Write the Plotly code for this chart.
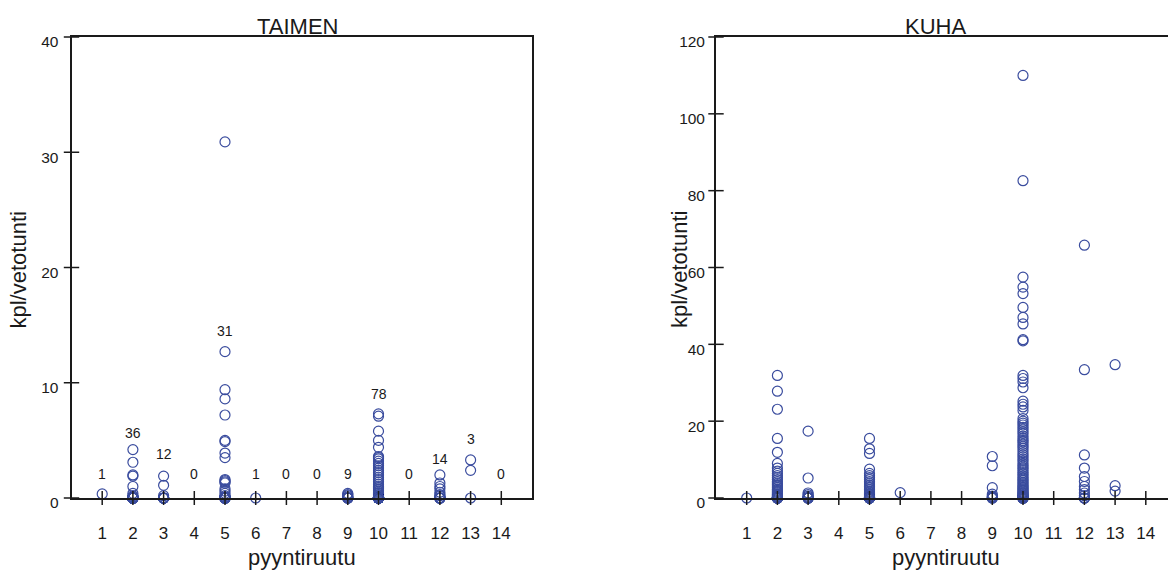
import plotly.graph_objects as go

# Fishing squares (pyyntiruutu) on the x axis
squares = list(range(1, 15))

# Brown trout (TAIMEN) catch per trolling hour, one list per square
taimen_1 = [0.35]
taimen_2 = [4.2, 3.1, 2.0, 1.9, 1.0, 0.4, 0.2, 0.1] + [0.0] * 28
taimen_3 = [1.9, 1.1, 0.2] + [0.0] * 9
taimen_4 = []
taimen_5 = [30.9, 12.7, 9.4, 8.6, 7.2, 5.0, 4.9, 3.9, 3.5, 1.6, 1.5, 1.4, 1.3,
            0.8, 0.6, 0.4, 0.2, 0.1] + [0.0] * 13
taimen_6 = [0.0]
taimen_7 = []
taimen_8 = []
taimen_9 = [0.4, 0.3, 0.2, 0.1, 0.0, 0.0, 0.0, 0.0, 0.0]
taimen_10 = [7.3, 7.1, 5.8, 5.0, 4.4, 3.6, 3.5, 3.4, 3.2, 3.0, 2.8, 2.6, 2.4,
             2.2, 2.0, 1.8, 1.6, 1.4, 1.2, 1.0, 0.9, 0.8, 0.7, 0.6, 0.5, 0.4,
             0.3, 0.2, 0.1] + [0.0] * 49
taimen_11 = []
taimen_12 = [2.0, 1.3, 1.0, 0.8, 0.5, 0.3, 0.2] + [0.0] * 7
taimen_13 = [3.3, 2.4, 0.0]
taimen_14 = []

# Pike-perch (KUHA) catch per trolling hour, one list per square
kuha_1 = [0.0]
kuha_2 = [31.9, 27.8, 23.1, 15.5, 11.9, 9.0, 7.8, 7.0, 6.4, 5.8, 5.3, 4.8, 4.3,
          3.9, 3.5, 3.1, 2.7, 2.3, 2.0, 1.7, 1.4, 1.1, 0.9, 0.7, 0.5, 0.3, 0.2,
          0.1] + [0.0] * 8
kuha_3 = [17.4, 5.2, 1.3, 0.9, 0.5, 0.2, 0.0, 0.0, 0.0, 0.0, 0.0, 0.0]
kuha_4 = []
kuha_5 = [15.5, 12.8, 11.6, 7.5, 6.4, 5.8, 5.3, 4.8, 4.3, 3.9, 3.4, 3.0, 2.6,
          2.2, 1.8, 1.5, 1.2, 0.9, 0.6, 0.4, 0.2, 0.1] + [0.0] * 9
kuha_6 = [1.4]
kuha_7 = []
kuha_8 = []
kuha_9 = [10.8, 8.4, 2.7, 1.0, 0.5, 0.3, 0.0, 0.0, 0.0]
kuha_10 = [110.0, 82.6, 57.5, 54.9, 53.2, 49.6, 47.0, 45.3, 41.2, 40.9,
           31.9, 31.1, 30.2, 28.7, 25.2, 24.4, 23.7, 22.8, 20.7, 20.0,
           19.5, 19.0, 18.4, 17.9, 17.3, 16.8, 16.1, 15.5, 15.0, 14.6,
           14.0, 13.5, 13.0, 12.4, 11.8, 11.2, 10.7, 10.1, 9.6, 9.0,
           8.5, 8.0, 7.6, 7.1, 6.6, 6.2, 5.7, 5.3, 4.9, 4.5,
           4.1, 3.7, 3.3, 3.0, 2.7, 2.4, 2.1, 1.8, 1.5, 1.3,
           1.1, 0.9, 0.7, 0.5, 0.4, 0.3, 0.2, 0.1] + [0.0] * 10
kuha_11 = []
kuha_12 = [65.8, 33.4, 11.2, 7.8, 5.6, 4.3, 3.0, 2.2, 1.3, 0.6, 0.0, 0.0, 0.0, 0.0]
kuha_13 = [34.7, 3.2, 1.8]
kuha_14 = []

taimen = [taimen_1, taimen_2, taimen_3, taimen_4, taimen_5, taimen_6, taimen_7,
          taimen_8, taimen_9, taimen_10, taimen_11, taimen_12, taimen_13, taimen_14]
kuha = [kuha_1, kuha_2, kuha_3, kuha_4, kuha_5, kuha_6, kuha_7,
        kuha_8, kuha_9, kuha_10, kuha_11, kuha_12, kuha_13, kuha_14]

taimen_yticks = [0, 10, 20, 30, 40]
kuha_yticks = [0, 20, 40, 60, 80, 100, 120]

# Heights (in data units) where the per-square sample counts are written
count_label_y = [2.1, 5.6, 3.8, 2.1, 14.5, 2.1, 2.1, 2.1, 2.1, 9.0, 2.1, 3.4, 5.1, 2.1]

FONT = "Liberation Sans, Arial, Helvetica, sans-serif"
INK = "#1a1a1a"
DOT = "#3a4c9e"
W, H = 1168, 572

# plot-area pixel boxes
L_X0, L_X1 = 71.5, 532
R_X0, R_X1 = 716, 1168
Y_TOP, Y_BOT = 37, 498
PX_PER_SQ = (L_X1 - L_X0) / 15.0


def flatten(groups):
    xs, ys = [], []
    for sq, vals in zip(squares, groups):
        xs += [sq] * len(vals)
        ys += vals
    return xs, ys


fig = go.Figure()

for groups, xa, ya in [(taimen, "x", "y"), (kuha, "x2", "y2")]:
    xs, ys = flatten(groups)
    fig.add_trace(go.Scatter(
        x=xs, y=ys, xaxis=xa, yaxis=ya, mode="markers",
        marker=dict(symbol="circle-open", size=10, color=DOT,
                    line=dict(width=1.2, color=DOT)),
        cliponaxis=False, hoverinfo="skip", showlegend=False))

# tick marks that cross the axis lines
for xa, ya, yt in [("x", "y", taimen_yticks), ("x2", "y2", kuha_yticks)]:
    fig.add_trace(go.Scatter(
        x=squares, y=[0] * len(squares), xaxis=xa, yaxis=ya, mode="markers",
        marker=dict(symbol="line-ns", size=10, line=dict(width=1.5, color=INK)),
        cliponaxis=False, hoverinfo="skip", showlegend=False))
    fig.add_trace(go.Scatter(
        x=[0] * len(yt), y=yt, xaxis=xa, yaxis=ya, mode="markers",
        marker=dict(symbol="line-ew", size=11, line=dict(width=1.5, color=INK)),
        cliponaxis=False, hoverinfo="skip", showlegend=False))

ydom = [1 - Y_BOT / H, 1 - Y_TOP / H]
axis_common = dict(showgrid=False, zeroline=False, showline=True,
                   linecolor=INK, linewidth=1.8, ticks="", automargin=False)
xfont = dict(family=FONT, size=17, color=INK)
yfont = dict(family=FONT, size=15.5, color=INK)
tfont = dict(family=FONT, size=22, color=INK)

fig.update_layout(
    width=W, height=H, margin=dict(l=0, r=0, t=0, b=0, autoexpand=False),
    paper_bgcolor="white", plot_bgcolor="white",
    font=dict(family=FONT, color=INK),
    xaxis=dict(domain=[L_X0 / W, L_X1 / W], range=[0, 15], mirror=True,
               tickvals=squares, ticklabelstandoff=19, tickfont=xfont,
               anchor="y", **axis_common),
    yaxis=dict(domain=ydom, range=[0, 40], mirror=True,
               tickvals=taimen_yticks, ticklabelstandoff=8, ticklabelshift=5,
               tickfont=yfont, anchor="x", **axis_common),
    xaxis2=dict(domain=[R_X0 / W, R_X1 / W],
                range=[0, (R_X1 - R_X0) / PX_PER_SQ], mirror=True,
                tickvals=squares, ticklabelstandoff=19, tickfont=xfont,
                anchor="y2", **axis_common),
    yaxis2=dict(domain=ydom, range=[0, 120], mirror=False,
                tickvals=kuha_yticks, ticklabelstandoff=6, ticklabelshift=5,
                tickfont=yfont, anchor="x2", **axis_common),
)

for sq, vals, ly in zip(squares, taimen, count_label_y):
    fig.add_annotation(x=sq, y=ly, xref="x", yref="y", text=str(len(vals)),
                       showarrow=False, font=dict(size=14, color=INK))

# panel titles
for name, cx in [("TAIMEN", 297.5), ("KUHA", 935)]:
    fig.add_annotation(x=cx / W, y=ydom[1], xref="paper", yref="paper",
                       text=name, showarrow=False, yanchor="bottom",
                       xanchor="center", yshift=-4, font=tfont)

# axis titles
for cx in [L_X0 + 7.5 * PX_PER_SQ, R_X0 + 7.5 * PX_PER_SQ]:
    fig.add_annotation(x=cx / W, y=1 - 557 / H, xref="paper", yref="paper",
                       text="pyyntiruutu", showarrow=False, yanchor="middle",
                       xanchor="center", font=tfont)
for cx in [17.5, 679]:
    fig.add_annotation(x=cx / W, y=1 - 270 / H, xref="paper", yref="paper",
                       text="kpl/vetotunti", showarrow=False, textangle=-90,
                       yanchor="middle", xanchor="center", font=tfont)

fig.write_html("out.html")
